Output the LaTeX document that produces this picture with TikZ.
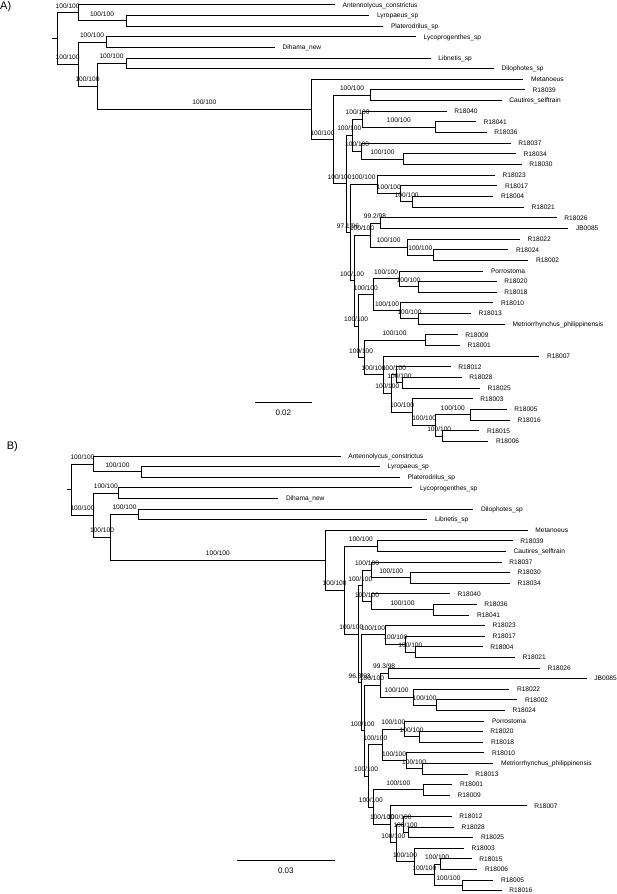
\documentclass[tikz,border=0pt]{standalone}
\usepackage{fontspec}
\setmainfont{Liberation Sans}
\newcommand{\treefont}{\fontsize{6.6}{8}\selectfont}

\begin{document}
\begin{tikzpicture}[x=1pt,y=-1pt]
	\tikzstyle{branch}=[draw,black,line width=0.9pt]
	\tikzstyle{taxon}=[anchor=west,inner xsep=7.5pt,inner ysep=0pt,text height=4.7pt,text depth=0pt,font=\treefont]
	\tikzstyle{boot}=[pos=0.75,above=4pt,inner sep=0pt,text height=4.7pt,text depth=0pt,font=\treefont]
	\tikzstyle{panel}=[anchor=west,inner sep=0pt,font=\fontsize{11}{13}\selectfont]
	\tikzstyle{scalelabel}=[below=7pt,inner sep=0pt,font=\fontsize{8}{10}\selectfont]

	\useasboundingbox (0,0) rectangle (617,894);

	% ---------------- panel A ----------------
	\node[panel] (A-label) at (0,7) {A)};

	\node[taxon] (A-Antennolycus) at (335,4.70) {Antennolycus\_constrictus};
	\node[taxon] (A-Lyropaeus) at (369.3,15.35) {Lyropaeus\_sp};
	\node[taxon] (A-Platerodrilus) at (383.3,26.00) {Platerodrilus\_sp};
	\node[taxon] (A-Lycoprogenthes) at (416,36.65) {Lycoprogenthes\_sp};
	\node[taxon] (A-Dihama) at (275,47.30) {Dihama\_new};
	\node[taxon] (A-Libnetis) at (430.7,57.95) {Libnetis\_sp};
	\node[taxon] (A-Dilophotes) at (494,68.60) {Dilophotes\_sp};
	\node[taxon] (A-Metanoeus) at (523.3,79.25) {Metanoeus};
	\node[taxon] (A-R18039) at (525,89.90) {R18039};
	\node[taxon] (A-Cautires) at (501.7,100.55) {Cautires\_selftrain};
	\node[taxon] (A-R18040) at (446.7,111.20) {R18040};
	\node[taxon] (A-R18041) at (476,121.85) {R18041};
	\node[taxon] (A-R18036) at (486.7,132.50) {R18036};
	\node[taxon] (A-R18037) at (510.7,143.15) {R18037};
	\node[taxon] (A-R18034) at (516,153.80) {R18034};
	\node[taxon] (A-R18030) at (521.7,164.45) {R18030};
	\node[taxon] (A-R18023) at (495,175.10) {R18023};
	\node[taxon] (A-R18017) at (497.3,185.75) {R18017};
	\node[taxon] (A-R18004) at (493.3,196.40) {R18004};
	\node[taxon] (A-R18021) at (524,207.05) {R18021};
	\node[taxon] (A-R18026) at (556.7,217.70) {R18026};
	\node[taxon] (A-JB0085) at (568.3,228.35) {JB0085};
	\node[taxon] (A-R18022) at (520,239.00) {R18022};
	\node[taxon] (A-R18024) at (508.3,249.65) {R18024};
	\node[taxon] (A-R18002) at (528.3,260.30) {R18002};
	\node[taxon] (A-Porrostoma) at (483.3,270.95) {Porrostoma};
	\node[taxon] (A-R18020) at (496.7,281.60) {R18020};
	\node[taxon] (A-R18018) at (496.7,292.25) {R18018};
	\node[taxon] (A-R18010) at (493.3,302.90) {R18010};
	\node[taxon] (A-R18013) at (471,313.55) {R18013};
	\node[taxon] (A-Metriorrhynchus) at (505,324.20) {Metriorrhynchus\_philippinensis};
	\node[taxon] (A-R18009) at (457.7,334.85) {R18009};
	\node[taxon] (A-R18001) at (460,345.50) {R18001};
	\node[taxon] (A-R18007) at (539.3,356.15) {R18007};
	\node[taxon] (A-R18012) at (450.7,366.80) {R18012};
	\node[taxon] (A-R18028) at (461.7,377.45) {R18028};
	\node[taxon] (A-R18025) at (480,388.10) {R18025};
	\node[taxon] (A-R18003) at (472.7,398.75) {R18003};
	\node[taxon] (A-R18005) at (506.7,409.40) {R18005};
	\node[taxon] (A-R18016) at (510,420.05) {R18016};
	\node[taxon] (A-R18015) at (479.3,430.70) {R18015};
	\node[taxon] (A-R18006) at (488.3,441.35) {R18006};

	\coordinate (A-stub) at (51.7,38.42);
	\coordinate (A-root) at (57.3,38.42);
	\coordinate (A-n1) at (78,12.69);
	\coordinate (A-n1a) at (126,20.68);
	\coordinate (A-n2) at (78,64.15);
	\coordinate (A-n3) at (106,41.98);
	\coordinate (A-n4) at (97,86.33);
	\coordinate (A-n5) at (126,63.28);
	\coordinate (A-n6) at (311.7,109.39);
	\coordinate (A-n7) at (333.3,139.53);
	\coordinate (A-n7a) at (370.7,95.23);
	\coordinate (A-n8) at (346,183.84);
	\coordinate (A-np) at (352.5,135.16);
	\coordinate (A-nx) at (362.7,119.19);
	\coordinate (A-nx1) at (435,127.18);
	\coordinate (A-ny) at (361.7,151.14);
	\coordinate (A-ny1) at (403.3,159.13);
	\coordinate (A-n9) at (350,232.51);
	\coordinate (A-n10) at (377,184.42);
	\coordinate (A-n10a) at (400.7,193.74);
	\coordinate (A-n10b) at (412.7,201.73);
	\coordinate (A-nd) at (354,280.6);
	\coordinate (A-nb1) at (370,235.01);
	\coordinate (A-na1) at (380,223.03);
	\coordinate (A-nc1) at (407.3,246.99);
	\coordinate (A-nc2) at (433.3,254.98);
	\coordinate (A-ne) at (358.3,326.2);
	\coordinate (A-nf) at (373.3,294.92);
	\coordinate (A-nf1) at (399,278.94);
	\coordinate (A-nf1a) at (418.3,286.93);
	\coordinate (A-nf2) at (400.7,310.89);
	\coordinate (A-nf2a) at (418.3,318.88);
	\coordinate (A-nh) at (364,357.48);
	\coordinate (A-nh1) at (425,340.18);
	\coordinate (A-nh2) at (383.3,374.79);
	\coordinate (A-ni) at (391.3,393.43);
	\coordinate (A-nj) at (396.7,374.79);
	\coordinate (A-nj1) at (402.3,382.78);
	\coordinate (A-nk) at (412.7,412.06);
	\coordinate (A-nl) at (435.7,425.38);
	\coordinate (A-nm) at (470,414.73);
	\coordinate (A-nn) at (442.7,436.03);

	\draw[branch] (A-stub) -- (A-root);
	\draw[branch] (A-root) |- (A-n1) node[boot] {100/100} (A-root) |- (A-n2) node[boot] {100/100};
	\draw[branch] (A-n1) |- (A-Antennolycus.west) (A-n1) |- (A-n1a) node[boot] {100/100};
	\draw[branch] (A-n1a) |- (A-Lyropaeus.west) (A-n1a) |- (A-Platerodrilus.west);
	\draw[branch] (A-n2) |- (A-n3) node[boot] {100/100} (A-n2) |- (A-n4) node[boot] {100/100};
	\draw[branch] (A-n3) |- (A-Lycoprogenthes.west) (A-n3) |- (A-Dihama.west);
	\draw[branch] (A-n4) |- (A-n5) node[boot] {100/100} (A-n4) |- (A-n6) node[boot] {100/100};
	\draw[branch] (A-n5) |- (A-Libnetis.west) (A-n5) |- (A-Dilophotes.west);
	\draw[branch] (A-n6) |- (A-Metanoeus.west) (A-n6) |- (A-n7) node[boot] {100/100};
	\draw[branch] (A-n7) |- (A-n7a) node[boot] {100/100} (A-n7) |- (A-n8) node[boot] {100/100};
	\draw[branch] (A-n7a) |- (A-R18039.west) (A-n7a) |- (A-Cautires.west);
	\draw[branch] (A-n8) |- (A-np) node[boot] {100/100} (A-n8) |- (A-n9) node[boot] {97.1/96};
	\draw[branch] (A-np) |- (A-nx) node[boot] {100/100} (A-np) |- (A-ny) node[boot] {100/100};
	\draw[branch] (A-nx) |- (A-R18040.west) (A-nx) |- (A-nx1) node[boot] {100/100};
	\draw[branch] (A-nx1) |- (A-R18041.west) (A-nx1) |- (A-R18036.west);
	\draw[branch] (A-ny) |- (A-R18037.west) (A-ny) |- (A-ny1) node[boot] {100/100};
	\draw[branch] (A-ny1) |- (A-R18034.west) (A-ny1) |- (A-R18030.west);
	\draw[branch] (A-n9) |- (A-n10) node[boot] {100/100} (A-n9) |- (A-nd) node[boot] {100/100};
	\draw[branch] (A-n10) |- (A-R18023.west) (A-n10) |- (A-n10a) node[boot] {100/100};
	\draw[branch] (A-n10a) |- (A-R18017.west) (A-n10a) |- (A-n10b) node[boot] {100/100};
	\draw[branch] (A-n10b) |- (A-R18004.west) (A-n10b) |- (A-R18021.west);
	\draw[branch] (A-nd) |- (A-nb1) node[boot] {100/100} (A-nd) |- (A-ne) node[boot] {100/100};
	\draw[branch] (A-nb1) |- (A-na1) node[boot] {99.2/98} (A-nb1) |- (A-nc1) node[boot] {100/100};
	\draw[branch] (A-na1) |- (A-R18026.west) (A-na1) |- (A-JB0085.west);
	\draw[branch] (A-nc1) |- (A-R18022.west) (A-nc1) |- (A-nc2) node[boot] {100/100};
	\draw[branch] (A-nc2) |- (A-R18024.west) (A-nc2) |- (A-R18002.west);
	\draw[branch] (A-ne) |- (A-nf) node[boot] {100/100} (A-ne) |- (A-nh) node[boot] {100/100};
	\draw[branch] (A-nf) |- (A-nf1) node[boot] {100/100} (A-nf) |- (A-nf2) node[boot] {100/100};
	\draw[branch] (A-nf1) |- (A-Porrostoma.west) (A-nf1) |- (A-nf1a) node[boot] {100/100};
	\draw[branch] (A-nf1a) |- (A-R18020.west) (A-nf1a) |- (A-R18018.west);
	\draw[branch] (A-nf2) |- (A-R18010.west) (A-nf2) |- (A-nf2a) node[boot] {100/100};
	\draw[branch] (A-nf2a) |- (A-R18013.west) (A-nf2a) |- (A-Metriorrhynchus.west);
	\draw[branch] (A-nh) |- (A-nh1) node[boot] {100/100} (A-nh) |- (A-nh2) node[boot] {100/100};
	\draw[branch] (A-nh1) |- (A-R18009.west) (A-nh1) |- (A-R18001.west);
	\draw[branch] (A-nh2) |- (A-R18007.west) (A-nh2) |- (A-ni) node[boot] {100/100};
	\draw[branch] (A-ni) |- (A-nj) node[boot] {100/100} (A-ni) |- (A-nk) node[boot] {100/100};
	\draw[branch] (A-nj) |- (A-R18012.west) (A-nj) |- (A-nj1) node[boot] {100/100};
	\draw[branch] (A-nj1) |- (A-R18028.west) (A-nj1) |- (A-R18025.west);
	\draw[branch] (A-nk) |- (A-R18003.west) (A-nk) |- (A-nl) node[boot] {100/100};
	\draw[branch] (A-nl) |- (A-nm) node[boot] {100/100} (A-nl) |- (A-nn) node[boot] {100/100};
	\draw[branch] (A-nm) |- (A-R18005.west) (A-nm) |- (A-R18016.west);
	\draw[branch] (A-nn) |- (A-R18015.west) (A-nn) |- (A-R18006.west);

	\coordinate (A-bar0) at (255,402.3);
	\coordinate (A-bar1) at (311.7,402.3);
	\draw[branch] (A-bar0) -- (A-bar1) node[midway,scalelabel] (A-scale) {0.02};

	% ---------------- panel B ----------------
	\node[panel] (B-label) at (6.7,447) {B)};

	\node[taxon] (B-Antennolycus) at (340.7,456.0) {Antennolycus\_constrictus};
	\node[taxon] (B-Lyropaeus) at (380,466.6) {Lyropaeus\_sp};
	\node[taxon] (B-Platerodrilus) at (400,477.2) {Platerodrilus\_sp};
	\node[taxon] (B-Lycoprogenthes) at (412.3,487.8) {Lycoprogenthes\_sp};
	\node[taxon] (B-Dihama) at (278.3,498.4) {Dihama\_new};
	\node[taxon] (B-Dilophotes) at (473.3,509.0) {Dilophotes\_sp};
	\node[taxon] (B-Libnetis) at (427.3,519.6) {Libnetis\_sp};
	\node[taxon] (B-Metanoeus) at (527.7,530.2) {Metanoeus};
	\node[taxon] (B-R18039) at (512.7,540.8) {R18039};
	\node[taxon] (B-Cautires) at (506,551.4) {Cautires\_selftrain};
	\node[taxon] (B-R18037) at (501.7,562.0) {R18037};
	\node[taxon] (B-R18030) at (510,572.6) {R18030};
	\node[taxon] (B-R18034) at (510,583.2) {R18034};
	\node[taxon] (B-R18040) at (450,593.8) {R18040};
	\node[taxon] (B-R18036) at (476.7,604.4) {R18036};
	\node[taxon] (B-R18041) at (469.3,615.0) {R18041};
	\node[taxon] (B-R18023) at (485,625.6) {R18023};
	\node[taxon] (B-R18017) at (485,636.2) {R18017};
	\node[taxon] (B-R18004) at (482.7,646.8) {R18004};
	\node[taxon] (B-R18021) at (515,657.4) {R18021};
	\node[taxon] (B-R18026) at (540,668.0) {R18026};
	\node[taxon] (B-JB0085) at (586.7,678.6) {JB0085};
	\node[taxon] (B-R18022) at (509.3,689.2) {R18022};
	\node[taxon] (B-R18002) at (517.3,699.8) {R18002};
	\node[taxon] (B-R18024) at (505,710.4) {R18024};
	\node[taxon] (B-Porrostoma) at (484.3,721.0) {Porrostoma};
	\node[taxon] (B-R18020) at (482.7,731.6) {R18020};
	\node[taxon] (B-R18018) at (483.3,742.2) {R18018};
	\node[taxon] (B-R18010) at (484.3,752.8) {R18010};
	\node[taxon] (B-Metriorrhynchus) at (493.3,763.4) {Metriorrhynchus\_philippinensis};
	\node[taxon] (B-R18013) at (467.7,774.0) {R18013};
	\node[taxon] (B-R18001) at (452.3,784.6) {R18001};
	\node[taxon] (B-R18009) at (450,795.2) {R18009};
	\node[taxon] (B-R18007) at (526.7,805.8) {R18007};
	\node[taxon] (B-R18012) at (451.7,816.4) {R18012};
	\node[taxon] (B-R18028) at (454,827.0) {R18028};
	\node[taxon] (B-R18025) at (473.3,837.6) {R18025};
	\node[taxon] (B-R18003) at (464,848.2) {R18003};
	\node[taxon] (B-R18015) at (471.7,858.8) {R18015};
	\node[taxon] (B-R18006) at (477.3,869.4) {R18006};
	\node[taxon] (B-R18005) at (493.3,880.0) {R18005};
	\node[taxon] (B-R18016) at (501.7,890.6) {R18016};

	\coordinate (B-stub) at (66.7,489.56);
	\coordinate (B-root) at (71.7,489.56);
	\coordinate (B-n1) at (93.3,463.95);
	\coordinate (B-n1a) at (141.7,471.9);
	\coordinate (B-n2) at (93.3,515.18);
	\coordinate (B-n3) at (118.3,493.1);
	\coordinate (B-n4) at (110.7,537.25);
	\coordinate (B-n5) at (138.3,514.3);
	\coordinate (B-n6) at (325,560.2);
	\coordinate (B-n7) at (344.3,590.2);
	\coordinate (B-n7a) at (377.3,546.1);
	\coordinate (B-n8) at (358.3,634.3);
	\coordinate (B-np) at (362.3,585.85);
	\coordinate (B-ny) at (371.7,569.95);
	\coordinate (B-ny1) at (410.7,577.9);
	\coordinate (B-nx) at (371.7,601.75);
	\coordinate (B-nx1) at (433.3,609.7);
	\coordinate (B-n9) at (361,682.74);
	\coordinate (B-n10) at (385,634.88);
	\coordinate (B-n10a) at (405.7,644.15);
	\coordinate (B-n10b) at (415,652.1);
	\coordinate (B-nd) at (364,730.61);
	\coordinate (B-nb1) at (380,685.23);
	\coordinate (B-na1) at (388.3,673.3);
	\coordinate (B-nc1) at (413.3,697.15);
	\coordinate (B-nc2) at (436,705.1);
	\coordinate (B-ne) at (368.3,775.99);
	\coordinate (B-nf) at (382.3,744.85);
	\coordinate (B-nf1) at (404.3,728.95);
	\coordinate (B-nf1a) at (419,736.9);
	\coordinate (B-nf2) at (406,760.75);
	\coordinate (B-nf2a) at (422.3,768.7);
	\coordinate (B-nh) at (373.3,807.13);
	\coordinate (B-nh1) at (423.3,789.9);
	\coordinate (B-nh2) at (390.7,824.35);
	\coordinate (B-ni) at (396,842.9);
	\coordinate (B-nj) at (403,824.35);
	\coordinate (B-nj1) at (408,832.3);
	\coordinate (B-nk) at (414.3,861.45);
	\coordinate (B-nl) at (434.3,874.7);
	\coordinate (B-nn) at (440,864.1);
	\coordinate (B-nm) at (462.7,885.3);

	\draw[branch] (B-stub) -- (B-root);
	\draw[branch] (B-root) |- (B-n1) node[boot] {100/100} (B-root) |- (B-n2) node[boot] {100/100};
	\draw[branch] (B-n1) |- (B-Antennolycus.west) (B-n1) |- (B-n1a) node[boot] {100/100};
	\draw[branch] (B-n1a) |- (B-Lyropaeus.west) (B-n1a) |- (B-Platerodrilus.west);
	\draw[branch] (B-n2) |- (B-n3) node[boot] {100/100} (B-n2) |- (B-n4) node[boot] {100/100};
	\draw[branch] (B-n3) |- (B-Lycoprogenthes.west) (B-n3) |- (B-Dihama.west);
	\draw[branch] (B-n4) |- (B-n5) node[boot] {100/100} (B-n4) |- (B-n6) node[boot] {100/100};
	\draw[branch] (B-n5) |- (B-Dilophotes.west) (B-n5) |- (B-Libnetis.west);
	\draw[branch] (B-n6) |- (B-Metanoeus.west) (B-n6) |- (B-n7) node[boot] {100/100};
	\draw[branch] (B-n7) |- (B-n7a) node[boot] {100/100} (B-n7) |- (B-n8) node[boot] {100/100};
	\draw[branch] (B-n7a) |- (B-R18039.west) (B-n7a) |- (B-Cautires.west);
	\draw[branch] (B-n8) |- (B-np) node[boot] {100/100} (B-n8) |- (B-n9) node[boot] {96.3/93};
	\draw[branch] (B-np) |- (B-ny) node[boot] {100/100} (B-np) |- (B-nx) node[boot] {100/100};
	\draw[branch] (B-ny) |- (B-R18037.west) (B-ny) |- (B-ny1) node[boot] {100/100};
	\draw[branch] (B-ny1) |- (B-R18030.west) (B-ny1) |- (B-R18034.west);
	\draw[branch] (B-nx) |- (B-R18040.west) (B-nx) |- (B-nx1) node[boot] {100/100};
	\draw[branch] (B-nx1) |- (B-R18036.west) (B-nx1) |- (B-R18041.west);
	\draw[branch] (B-n9) |- (B-n10) node[boot] {100/100} (B-n9) |- (B-nd) node[boot] {100/100};
	\draw[branch] (B-n10) |- (B-R18023.west) (B-n10) |- (B-n10a) node[boot] {100/100};
	\draw[branch] (B-n10a) |- (B-R18017.west) (B-n10a) |- (B-n10b) node[boot] {100/100};
	\draw[branch] (B-n10b) |- (B-R18004.west) (B-n10b) |- (B-R18021.west);
	\draw[branch] (B-nd) |- (B-nb1) node[boot] {100/100} (B-nd) |- (B-ne) node[boot] {100/100};
	\draw[branch] (B-nb1) |- (B-na1) node[boot] {99.3/98} (B-nb1) |- (B-nc1) node[boot] {100/100};
	\draw[branch] (B-na1) |- (B-R18026.west) (B-na1) |- (B-JB0085.west);
	\draw[branch] (B-nc1) |- (B-R18022.west) (B-nc1) |- (B-nc2) node[boot] {100/100};
	\draw[branch] (B-nc2) |- (B-R18002.west) (B-nc2) |- (B-R18024.west);
	\draw[branch] (B-ne) |- (B-nf) node[boot] {100/100} (B-ne) |- (B-nh) node[boot] {100/100};
	\draw[branch] (B-nf) |- (B-nf1) node[boot] {100/100} (B-nf) |- (B-nf2) node[boot] {100/100};
	\draw[branch] (B-nf1) |- (B-Porrostoma.west) (B-nf1) |- (B-nf1a) node[boot] {100/100};
	\draw[branch] (B-nf1a) |- (B-R18020.west) (B-nf1a) |- (B-R18018.west);
	\draw[branch] (B-nf2) |- (B-R18010.west) (B-nf2) |- (B-nf2a) node[boot] {100/100};
	\draw[branch] (B-nf2a) |- (B-Metriorrhynchus.west) (B-nf2a) |- (B-R18013.west);
	\draw[branch] (B-nh) |- (B-nh1) node[boot] {100/100} (B-nh) |- (B-nh2) node[boot] {100/100};
	\draw[branch] (B-nh1) |- (B-R18001.west) (B-nh1) |- (B-R18009.west);
	\draw[branch] (B-nh2) |- (B-R18007.west) (B-nh2) |- (B-ni) node[boot] {100/100};
	\draw[branch] (B-ni) |- (B-nj) node[boot] {100/100} (B-ni) |- (B-nk) node[boot] {100/100};
	\draw[branch] (B-nj) |- (B-R18012.west) (B-nj) |- (B-nj1) node[boot] {100/100};
	\draw[branch] (B-nj1) |- (B-R18028.west) (B-nj1) |- (B-R18025.west);
	\draw[branch] (B-nk) |- (B-R18003.west) (B-nk) |- (B-nl) node[boot] {100/100};
	\draw[branch] (B-nl) |- (B-nn) node[boot] {100/100} (B-nl) |- (B-nm) node[boot] {100/100};
	\draw[branch] (B-nn) |- (B-R18015.west) (B-nn) |- (B-R18006.west);
	\draw[branch] (B-nm) |- (B-R18005.west) (B-nm) |- (B-R18016.west);

	\coordinate (B-bar0) at (236.7,860.7);
	\coordinate (B-bar1) at (335,860.7);
	\draw[branch] (B-bar0) -- (B-bar1) node[midway,scalelabel] (B-scale) {0.03};
\end{tikzpicture}
\end{document}
